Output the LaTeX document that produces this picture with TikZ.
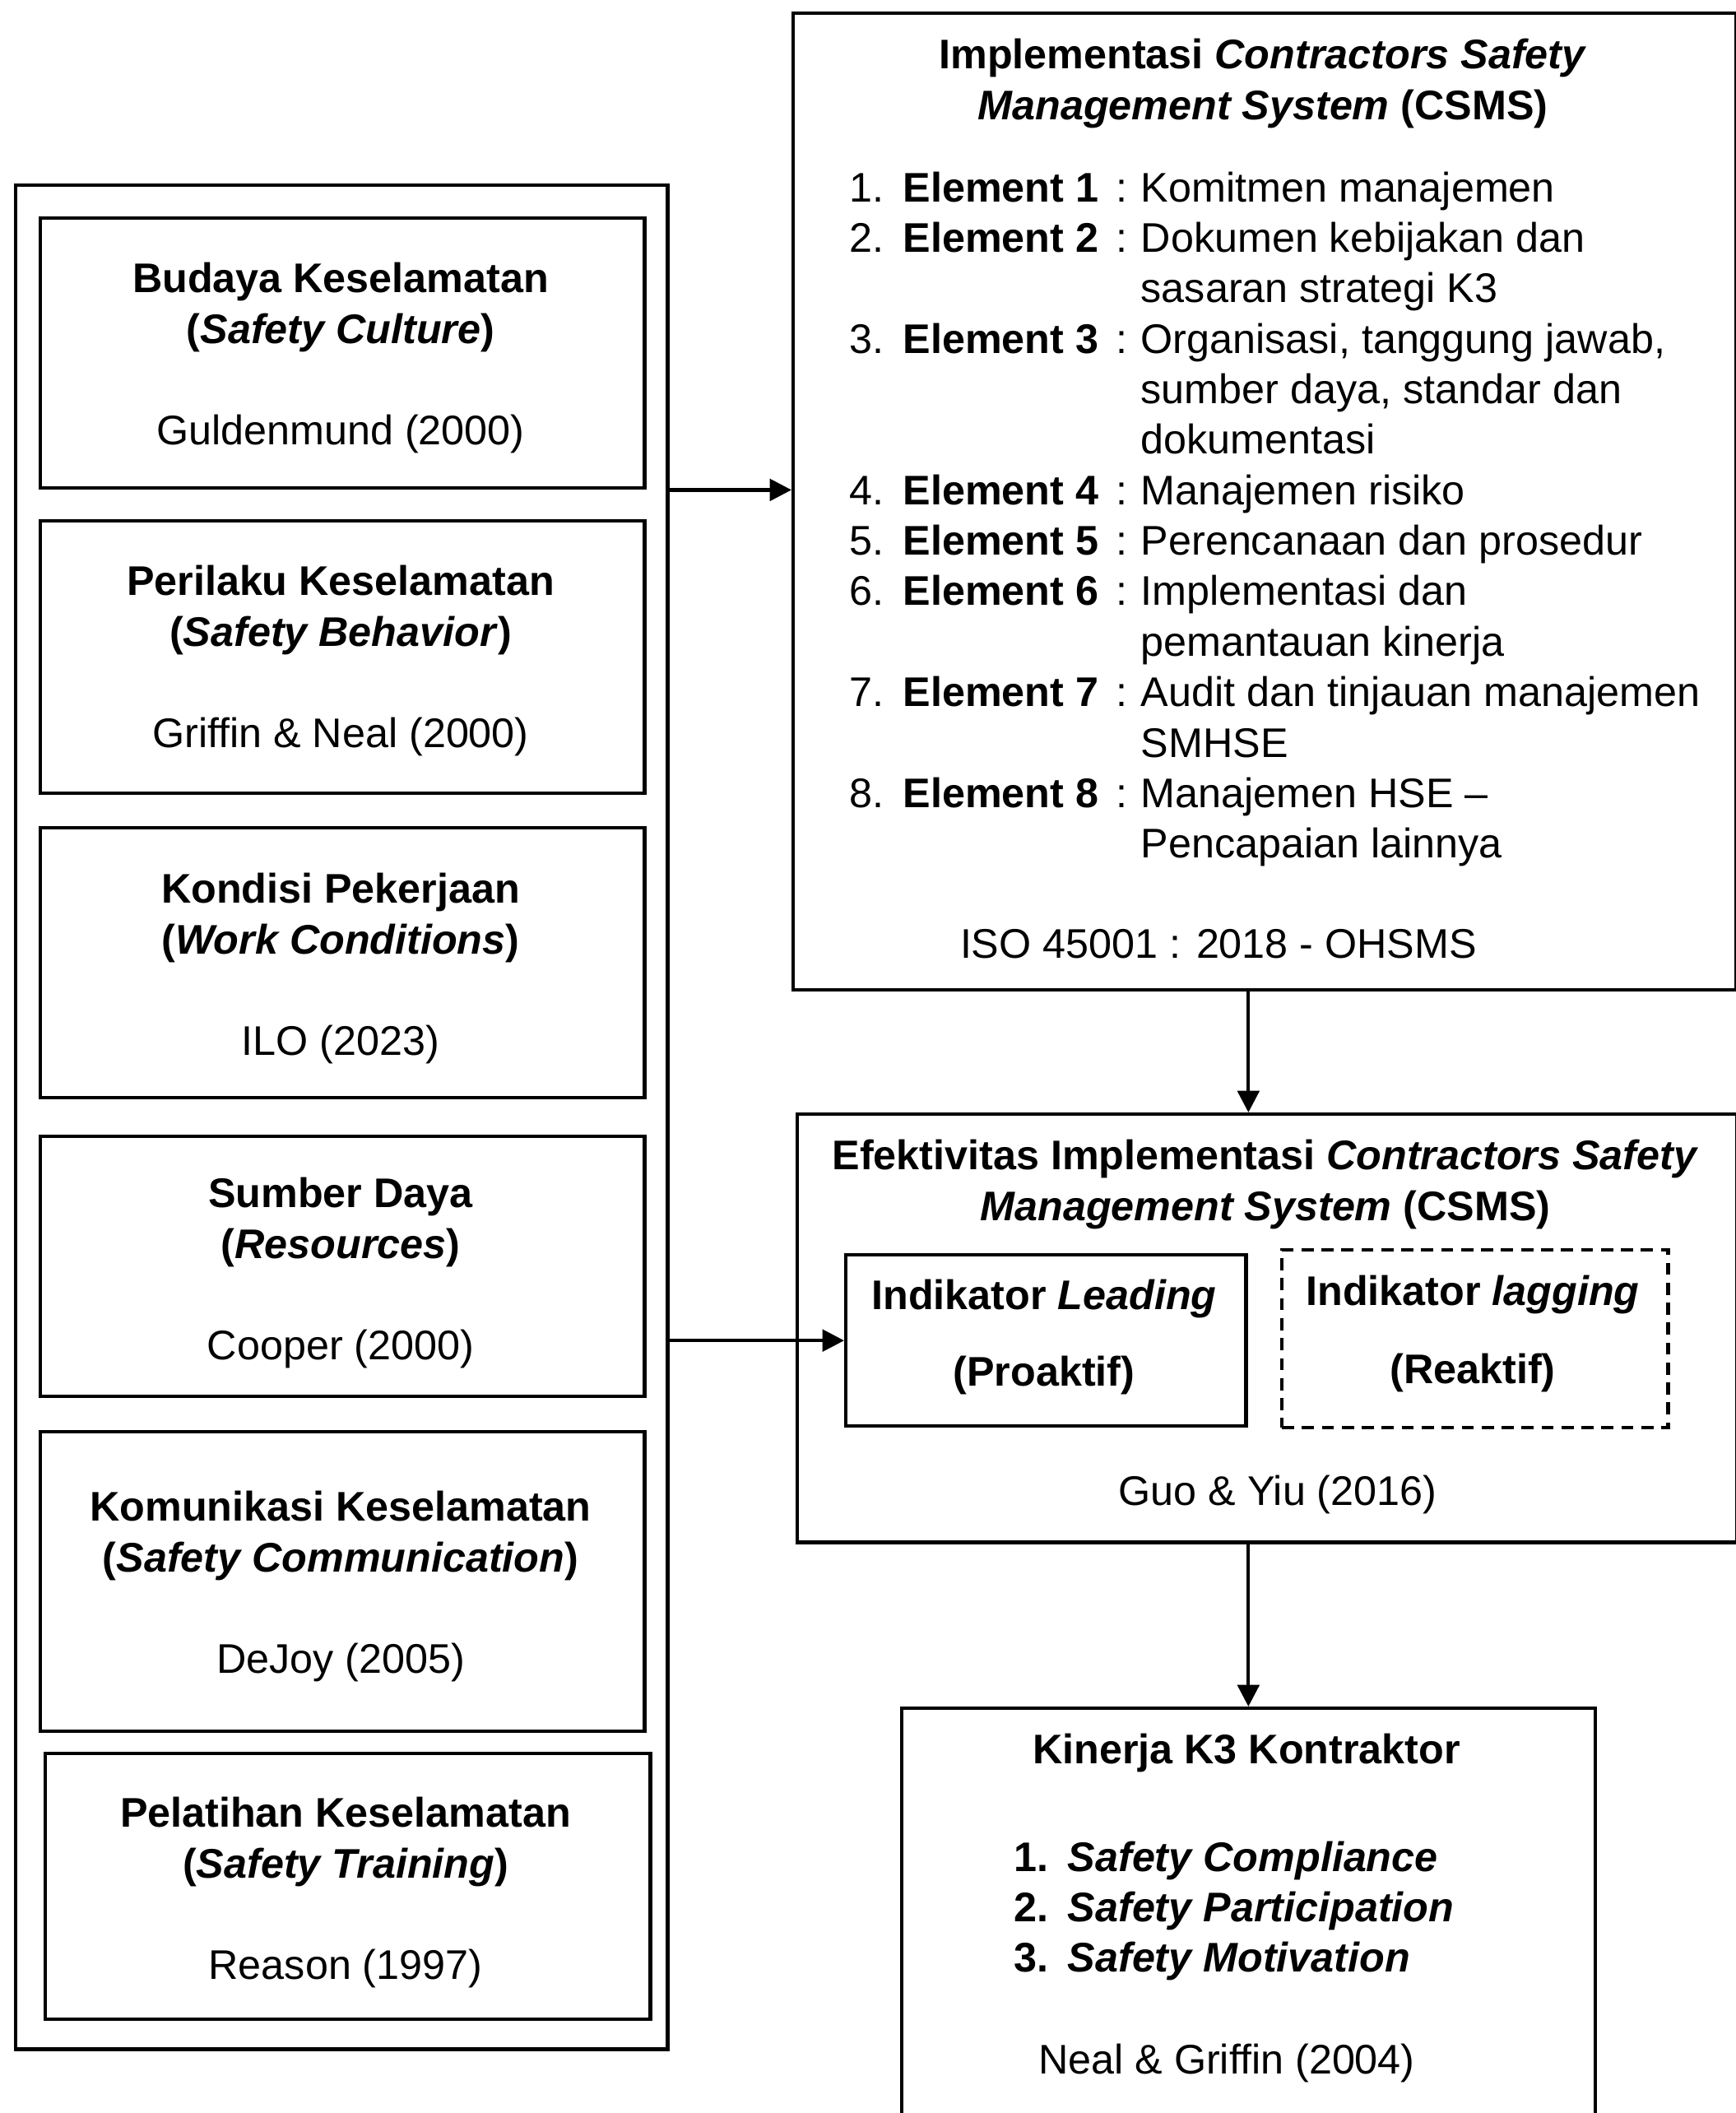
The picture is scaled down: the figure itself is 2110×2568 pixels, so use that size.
\documentclass[tikz,border=0pt]{standalone}
\usepackage{fontspec}
\setmainfont{Liberation Sans}
\usetikzlibrary{arrows.meta}

\tikzset{
  box/.style={draw, line width=1.2pt, anchor=north west, inner sep=0pt},
  dbox/.style={box, dash pattern=on 4.2pt off 2.7pt},
  txt/.style={font=\fontsize{14.3}{17.45}\selectfont, inner sep=0pt, align=center, anchor=base},
  arr/.style={line width=1.2pt, -{Triangle[length=7.5pt,width=7.5pt]}},
}

\begin{document}
\begin{tikzpicture}[x=0.01cm, y=-0.01cm]
	\useasboundingbox (0,0) rectangle (2110,2568);
	% left column: factors
	\node[box, minimum width=7.92cm, minimum height=22.64cm] (factors) at (17,223) {};
	\node[box, minimum width=7.34cm, minimum height=3.28cm] (budaya) at (47,263) {};
	\node[box, minimum width=7.34cm, minimum height=3.31cm] (perilaku) at (47,631) {};
	\node[box, minimum width=7.34cm, minimum height=3.28cm] (kondisi) at (47,1004) {};
	\node[box, minimum width=7.34cm, minimum height=3.16cm] (sumber) at (47,1379) {};
	\node[box, minimum width=7.34cm, minimum height=3.64cm] (komunikasi) at (47,1738) {};
	\node[box, minimum width=7.35cm, minimum height=3.23cm] (pelatihan) at (53,2129) {};

	% base = last line
	\node[txt] (tbudaya) at (414,540) {\textbf{Budaya Keselamatan}\\\textbf{(\textit{Safety Culture})}\\[17.45pt]Guldenmund (2000)};
	\node[txt] (tperilaku) at (414,908) {\textbf{Perilaku Keselamatan}\\\textbf{(\textit{Safety Behavior})}\\[17.45pt]Griffin \& Neal (2000)};
	\node[txt] (tkondisi) at (414,1282) {\textbf{Kondisi Pekerjaan}\\\textbf{(\textit{Work Conditions})}\\[17.45pt]ILO (2023)};
	\node[txt] (tsumber) at (414,1652) {\textbf{Sumber Daya}\\\textbf{(\textit{Resources})}\\[17.45pt]Cooper (2000)};
	\node[txt] (tkomunikasi) at (414,2033) {\textbf{Komunikasi Keselamatan}\\\textbf{(\textit{Safety Communication})}\\[17.45pt]DeJoy (2005)};
	\node[txt] (tpelatihan) at (420,2405) {\textbf{Pelatihan Keselamatan}\\\textbf{(\textit{Safety Training})}\\[17.45pt]Reason (1997)};

	% right column
	\node[box, minimum width=11.45cm, minimum height=11.86cm] (impl) at (962,14) {};
	\node[txt, font=\fontsize{14.3}{17.45}\selectfont\bfseries] (timpl) at (1535,145) {Implementasi \textit{Contractors Safety}\\\textit{Management System} (CSMS)};
	\node[txt, anchor=base west] (elemen) at (1032,245) {\begin{tabular}[t]{@{}p{18.5pt}@{}p{73.7pt}@{}p{8.5pt}@{}l@{}}
		1. & \textbf{Element 1} & : & Komitmen manajemen\\
		2. & \textbf{Element 2} & : & Dokumen kebijakan dan\\
		 & & & sasaran strategi K3\\
		3. & \textbf{Element 3} & : & Organisasi, tanggung jawab,\\
		 & & & sumber daya, standar dan\\
		 & & & dokumentasi\\
		4. & \textbf{Element 4} & : & Manajemen risiko\\
		5. & \textbf{Element 5} & : & Perencanaan dan prosedur\\
		6. & \textbf{Element 6} & : & Implementasi dan\\
		 & & & pemantauan kinerja\\
		7. & \textbf{Element 7} & : & Audit dan tinjauan manajemen\\
		 & & & SMHSE\\
		8. & \textbf{Element 8} & : & Manajemen HSE --\\
		 & & & Pencapaian lainnya
	\end{tabular}};
	\node[txt] (iso) at (1481,1164) {ISO 45001 : 2018 - OHSMS};

	\node[box, minimum width=11.41cm, minimum height=5.20cm] (eff) at (967,1352) {};
	\node[txt, font=\fontsize{14.3}{17.45}\selectfont\bfseries] (teff) at (1538,1483) {Efektivitas Implementasi \textit{Contractors Safety}\\\textit{Management System} (CSMS)};
	\node[box, minimum width=4.86cm, minimum height=2.08cm] (leading) at (1026,1523) {};
	\node[dbox, minimum width=4.69cm, minimum height=2.16cm] (lagging) at (1556,1517) {};
	\node[txt, font=\fontsize{14.3}{17.45}\selectfont\bfseries] (tleading) at (1269,1684) {Indikator \textit{Leading}\\[8.8pt](Proaktif)};
	\node[txt, font=\fontsize{14.3}{17.45}\selectfont\bfseries] (tlagging) at (1790,1681) {Indikator \textit{lagging}\\[9.3pt](Reaktif)};
	\node[txt] (guo) at (1553,1829) {Guo \& Yiu (2016)};

	\node[box, minimum width=8.42cm, minimum height=5.46cm] (kinerja) at (1094,2074) {};
	\node[txt, font=\fontsize{14.3}{17.45}\selectfont\bfseries] (tkinerja) at (1515,2143) {Kinerja K3 Kontraktor};
	\node[txt, anchor=base west] (sikap) at (1232,2274) {\bfseries\begin{tabular}[t]{@{}p{18.5pt}@{}l@{}}
		1. & \textit{Safety Compliance}\\
		2. & \textit{Safety Participation}\\
		3. & \textit{Safety Motivation}
	\end{tabular}};
	\node[txt] (neal) at (1491,2520) {Neal \& Griffin (2004)};

	% connectors
	\draw[arr] (factors.east |- budaya.south) -- (impl.west |- budaya.south);
	\draw[arr] (factors.east |- leading.west) -- (leading.west);
	\draw[arr] (impl.south -| kinerja.north) -- (eff.north -| kinerja.north);
	\draw[arr] (eff.south -| kinerja.north) -- (kinerja.north);
\end{tikzpicture}
\end{document}
